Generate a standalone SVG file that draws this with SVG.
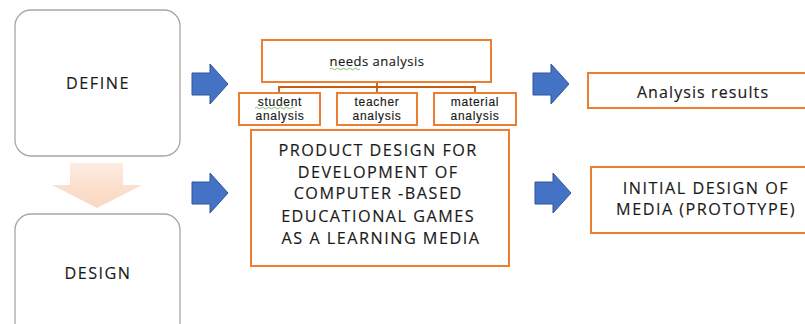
<svg xmlns="http://www.w3.org/2000/svg" width="805" height="324" viewBox="0 0 805 324">
<style>
.t{font-family:"Open Sans","Liberation Sans",sans-serif;fill:#1a1a1a;text-anchor:middle;stroke:#1a1a1a;stroke-width:0.15}
.ob{fill:#fff;stroke:#ED7D31;stroke-width:2}
.gb{fill:#fff;stroke:#A6A6A6;stroke-width:1.3}
.ba{fill:#4472C4;stroke:#2F5597;stroke-width:1}
.sq{fill:none;stroke:#5BB450;stroke-width:0.8}
.big{font-size:16.2px;letter-spacing:1.5px}
.sm{font-family:"Liberation Sans","Open Sans",sans-serif;font-size:12px;letter-spacing:0.7px}
</style>
<defs>
<linearGradient id="fade" x1="0" y1="0" x2="0" y2="1">
<stop offset="0" stop-color="#F8CBAD" stop-opacity="0.35"/>
<stop offset="0.5" stop-color="#F8CBAD" stop-opacity="0.6"/>
<stop offset="1" stop-color="#F8CBAD" stop-opacity="0.75"/>
</linearGradient>
<path id="barrow" d="M0,9 H18 V0 L36,20 L18,40 V31 H0 Z"/>
</defs>
<rect width="805" height="324" fill="#fff"/>
<g id="define">
<rect class="gb" x="15" y="10" width="165" height="146" rx="16"/>
<text class="t big" x="98" y="89">DEFINE</text>
</g>
<g id="design">
<rect class="gb" x="15" y="214" width="165" height="130" rx="16"/>
<text class="t big" x="98" y="279">DESIGN</text>
</g>
<g id="connectors">
<path d="M70,163 H123 V185 H142 L97,208 L52,185 H70 Z" fill="url(#fade)"/>
<use href="#barrow" class="ba" x="192" y="64"/>
<use href="#barrow" class="ba" x="192" y="173"/>
<use href="#barrow" class="ba" x="533" y="64"/>
<use href="#barrow" class="ba" x="535" y="173"/>
<path d="M377,82 V87 M279,93 V87 H475 V93 M377,87 V93" fill="none" stroke="#C55A11" stroke-width="1.8"/>
</g>
<g id="needs">
<rect class="ob" x="262" y="40" width="229" height="42"/>
<text class="t" x="377" y="66" font-size="13" letter-spacing="0.5">needs analysis</text>
<path class="sq" d="M330,69 q1.5,-1.5 3,0 t3,0 t3,0 t3,0 t3,0 t3,0 t3,0 t3,0 t3,0 t3,0"/>
</g>
<g id="student">
<rect class="ob" x="239" y="93" width="81" height="32"/>
<text class="t sm" x="280" y="106">student</text>
<text class="t sm" x="280" y="120">analysis</text>
<path class="sq" d="M255,108 q1.5,-1.5 3,0 t3,0 t3,0 t3,0 t3,0 t3,0 t3,0 t3,0 t3,0 t3,0 t3,0 t3,0 t3,0"/>
</g>
<g id="teacher">
<rect class="ob" x="337" y="93" width="80" height="32"/>
<text class="t sm" x="377" y="106">teacher</text>
<text class="t sm" x="377" y="120">analysis</text>
</g>
<g id="material">
<rect class="ob" x="434" y="93" width="82" height="32"/>
<text class="t sm" x="475" y="106">material</text>
<text class="t sm" x="475" y="120">analysis</text>
</g>
<g id="product">
<rect class="ob" x="251" y="130" width="258" height="136"/>
<text class="t big">
<tspan x="381" y="156">PRODUCT DESIGN FOR</tspan>
<tspan x="381" y="178">DEVELOPMENT OF</tspan>
<tspan x="381" y="199">COMPUTER -BASED</tspan>
<tspan x="381" y="222">EDUCATIONAL GAMES</tspan>
<tspan x="381" y="244">AS A LEARNING MEDIA</tspan>
</text>
</g>
<g id="results">
<rect class="ob" x="588" y="73" width="222" height="35"/>
<text class="t" x="703" y="98" font-size="16" letter-spacing="1.1">Analysis results</text>
</g>
<g id="initial">
<rect class="ob" x="591" y="167" width="222" height="66"/>
<text class="t big" x="706" y="194">INITIAL DESIGN OF</text>
<text class="t big" x="706" y="215">MEDIA (PROTOTYPE)</text>
</g>
</svg>
